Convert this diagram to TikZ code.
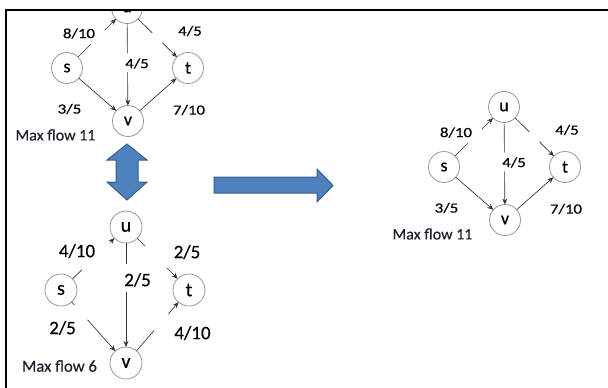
\documentclass[tikz,border=0pt]{standalone}
\usepackage{fontspec}
\setmainfont{Carlito}[FakeBold=0.4]
\newfontfamily\widefont{Carlito}[FakeStretch=1.2,FakeBold=0.6]
\usetikzlibrary{arrows.meta}

\definecolor{boxblue}{HTML}{4F81BD}
\definecolor{boxedge}{HTML}{385D8A}
\definecolor{ink}{HTML}{1E1E2E}

\tikzset{
  vert/.style={circle, draw=black!40, line width=.8pt, fill=white, minimum size=31pt,
    inner sep=0pt, outer sep=0pt, font=\fontsize{18}{18}\selectfont},
  bigvert/.style={vert, minimum size=32pt, font=\fontsize{20}{20}\selectfont},
  flow/.style={draw=black!80, line width=.65pt, -{Stealth[length=6pt,width=5pt]}},
  splitline/.style 2 args={dash pattern=on #1 off #2 on 400pt},
  cap11/.style={font=\widefont\fontsize{14}{14}\selectfont, inner sep=0pt},
  cap6/.style={font=\fontsize{19}{19}\selectfont, inner sep=0pt},
  total/.style={font=\fontsize{16}{16}\selectfont, text=ink, inner sep=0pt},
  blockarrow/.style={fill=boxblue, draw=boxedge, line width=1pt, line join=miter}
}

% the network with max flow 11 (right hand copy coordinates)
\newcommand{\elevennet}[1]{
  \node[vert] (#1u) at (504,107) {u};
  \node[vert] (#1s) at (444,167) {s};
  \node[vert] (#1t) at (565,167) {t};
  \node[vert] (#1v) at (505,220) {v};
  \draw[flow, splitline={18pt}{20pt}] (#1s) -- (#1u);
  \draw[flow, splitline={20pt}{14pt}] (#1u) -- (#1t);
  \draw[flow, splitline={30pt}{19pt}] (#1u) -- (#1v);
  \draw[flow] (#1s) -- (#1v);
  \draw[flow] (#1v) -- (#1t);
  \node[cap11] (#1su) at (456,132.5) {8/10};
  \node[cap11] (#1ut) at (567,130) {4/5};
  \node[cap11] (#1uv) at (514,162.5) {4/5};
  \node[cap11] (#1sv) at (446.5,208) {3/5};
  \node[cap11] (#1vt) at (566,209) {7/10};
  \node[total] (#1max) at (432.5,234) {Max flow 11};
}

\begin{document}
\begin{tikzpicture}[x=1pt,y=-1pt]
  \useasboundingbox (0,0) rectangle (608,388);

  % upper left copy, cut off by the frame
  \begin{scope}
    \clip (0,10) rectangle (608,388);
    \begin{scope}[shift={(-377,-99)}]
      \elevennet{a}
    \end{scope}
  \end{scope}

  % right hand copy
  \elevennet{c}

  % lower network, max flow 6
  \node[bigvert] (bu) at (126,227) {u};
  \node[bigvert] (bs) at (61,290) {s};
  \node[bigvert] (bt) at (189,290) {t};
  \node[bigvert] (bv) at (126,363) {v};
  \draw[flow, splitline={13pt}{39pt}] (bs) -- (bu);
  \draw[flow, splitline={11pt}{31pt}] (bu) -- (bt);
  \draw[flow, splitline={21pt}{28pt}] (bu) -- (bv);
  \draw[flow, splitline={4pt}{20pt}] (bs) -- (bv);
  \draw[flow, splitline={27pt}{22pt}] (bv) -- (bt);
  \node[cap6] (bsu) at (77,251) {4/10};
  \node[cap6] (but) at (187,252) {2/5};
  \node[cap6] (buv) at (137.5,280) {2/5};
  \node[cap6] (bsv) at (62.5,328) {2/5};
  \node[cap6] (bvt) at (192.5,333) {4/10};
  \node[total, font=\fontsize{16.7}{16.7}\selectfont] (bmax) at (59.5,366) {Max flow 6};

  % block arrows
  \draw[blockarrow] (127,144) -- (147,160) -- (138,160) -- (138,182) -- (147,182)
    -- (127,200) -- (107,182) -- (116,182) -- (116,160) -- (107,160) -- cycle;
  \draw[blockarrow] (214,177) -- (317,177) -- (317,169) -- (333,185.5) -- (317,202)
    -- (317,193) -- (214,193) -- cycle;

  % frame
  \draw[line width=2pt, line join=miter] (6,388) -- (6,10) -- (608,10);
\end{tikzpicture}
\end{document}
